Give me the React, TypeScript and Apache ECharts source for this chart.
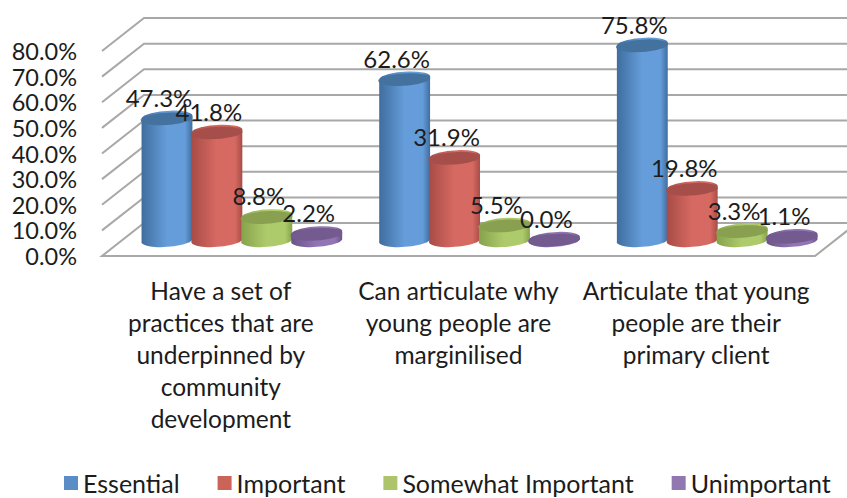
import React, { useEffect, useRef } from "react";
import * as echarts from "echarts";

const categories = [
  "Have a set of\npractices that are\nunderpinned by\ncommunity\ndevelopment",
  "Can articulate why\nyoung people are\nmarginilised",
  "Articulate that young\npeople are their\nprimary client",
];
const seriesNames = ["Essential", "Important", "Somewhat Important", "Unimportant"];
const essential = [47.3, 62.6, 75.8];
const important = [41.8, 31.9, 19.8];
const somewhatImportant = [8.8, 5.5, 3.3];
const unimportant = [2.2, 0.0, 1.1];
const valueTicks = [0, 10, 20, 30, 40, 50, 60, 70, 80];

// body gradient edge / centre / edge, lid colour, legend swatch
const palettes = [
  { edge: "#3f6d9e", mid: "#659dda", lid: "#44729f", swatch: "#5a8dc6" },
  { edge: "#a84b46", mid: "#d66a62", lid: "#a64f4a", swatch: "#cb6358" },
  { edge: "#86a34c", mid: "#aecb6c", lid: "#88a04f", swatch: "#aec46a" },
  { edge: "#6a5287", mid: "#9276b4", lid: "#735a8f", swatch: "#9278b0" },
];

// Oblique projection of the chart box: the back wall sits up and right of the front edge.
const DEPTH_X = 42;
const DEPTH_Y = -33;
const FONT = "Lato, 'Open Sans', sans-serif";
const TEXT_COLOR = "#1c1c1c";
const LINE_COLOR = "#a8a8a8";

function renderWall(params: any, api: any) {
  const box = params.coordSys;
  const tick = api.value(1);
  const y = api.coord([0, tick])[1];
  const line = { stroke: LINE_COLOR, lineWidth: 2, fill: null };
  const points =
    tick === 0
      ? [
          [box.x + box.width + DEPTH_X, y + DEPTH_Y],
          [box.x + box.width, y],
          [box.x, y],
          [box.x + DEPTH_X, y + DEPTH_Y],
          [box.x + box.width + DEPTH_X, y + DEPTH_Y],
        ]
      : [
          [box.x, y],
          [box.x + DEPTH_X, y + DEPTH_Y],
          [box.x + box.width + DEPTH_X, y + DEPTH_Y],
        ];
  return { type: "polyline", shape: { points }, style: line, silent: true };
}

function cylinderRenderer(seriesIndex: number) {
  const pal = palettes[seriesIndex];
  return (_params: any, api: any) => {
    const category = api.value(0);
    const value = api.value(1);
    const step = api.size([1, 0])[0];
    const rx = step * 0.107;
    const ry = 6.5;
    const tilt = -4;
    const dy = rx * Math.sin((tilt * Math.PI) / 180);
    const top = api.coord([category, value]);
    const base = api.coord([category, 0]);
    const cx = top[0] + DEPTH_X / 2 + (seriesIndex - 1.5) * step * 0.21;
    const topY = top[1] + DEPTH_Y / 2;
    const baseY = base[1] + DEPTH_Y / 2;
    const body =
      `M${cx - rx} ${topY - dy} L${cx - rx} ${baseY - dy} ` +
      `A${rx} ${ry} ${tilt} 0 0 ${cx + rx} ${baseY + dy} ` +
      `L${cx + rx} ${topY + dy} ` +
      `A${rx} ${ry} ${tilt} 0 0 ${cx - rx} ${topY - dy} Z`;
    const lid =
      `M${cx - rx} ${topY - dy} ` +
      `A${rx} ${ry} ${tilt} 0 1 ${cx + rx} ${topY + dy} ` +
      `A${rx} ${ry} ${tilt} 0 1 ${cx - rx} ${topY - dy} Z`;
    return {
      type: "group",
      children: [
        {
          type: "path",
          shape: { pathData: body },
          style: {
            fill: new echarts.graphic.LinearGradient(0, 0, 1, 0, [
              { offset: 0, color: pal.edge },
              { offset: 0.5, color: pal.mid },
              { offset: 0.85, color: pal.mid },
              { offset: 1, color: pal.edge },
            ]),
          },
        },
        { type: "path", shape: { pathData: lid }, style: { fill: pal.lid } },
        {
          type: "text",
          z2: 100,
          style: {
            x: cx - 8,
            y: topY - 21,
            text: `${value.toFixed(1)}%`,
            align: "center",
            verticalAlign: "middle",
            font: `24px ${FONT}`,
            fill: TEXT_COLOR,
          },
        },
      ],
    };
  };
}

const seriesValues = [essential, important, somewhatImportant, unimportant];

export default function App() {
  const ref = useRef<HTMLDivElement>(null);

  useEffect(() => {
    const chart = echarts.init(ref.current!, undefined, { renderer: "svg" });
    chart.setOption({
      animation: false,
      backgroundColor: "#ffffff",
      grid: { left: 102, right: 32, top: 51, bottom: 242, containLabel: false },
      xAxis: {
        type: "category",
        data: categories,
        axisLine: { show: false },
        axisTick: { show: false },
        axisLabel: {
          interval: 0,
          margin: 18,
          fontFamily: FONT,
          fontSize: 24.5,
          lineHeight: 32,
          color: TEXT_COLOR,
          align: "center",
        },
      },
      yAxis: {
        type: "value",
        min: 0,
        max: 80,
        interval: 10,
        axisLine: { show: false },
        axisTick: { show: false },
        splitLine: { show: false },
        axisLabel: {
          margin: 25,
          fontFamily: FONT,
          fontSize: 23.5,
          lineHeight: 22,
          padding: [3, 0, 0, 0],
          color: TEXT_COLOR,
          formatter: (v: number) => `${v.toFixed(1)}%`,
        },
      },
      legend: {
        left: 64,
        top: 470,
        padding: 0,
        itemWidth: 14,
        itemHeight: 14,
        itemGap: 38,
        icon: "rect",
        data: seriesNames,
        textStyle: { fontFamily: FONT, fontSize: 25, lineHeight: 26, color: TEXT_COLOR },
      },
      series: [
        {
          type: "custom",
          name: "wall",
          renderItem: renderWall,
          data: valueTicks.map((t) => [0, t]),
          encode: { x: 0, y: 1 },
          silent: true,
          z: 1,
        },
        ...seriesNames.map((name, s) => ({
          type: "custom",
          name,
          renderItem: cylinderRenderer(s),
          data: seriesValues[s].map((v, i) => [i, v]),
          encode: { x: 0, y: 1 },
          itemStyle: { color: palettes[s].swatch },
          silent: true,
          z: 2 + s,
        })),
      ],
    });
    return () => chart.dispose();
  }, []);

  return (
    <div
      ref={ref}
      style={{ position: "fixed", left: 0, top: 0, width: 847, height: 498 }}
    />
  );
}
